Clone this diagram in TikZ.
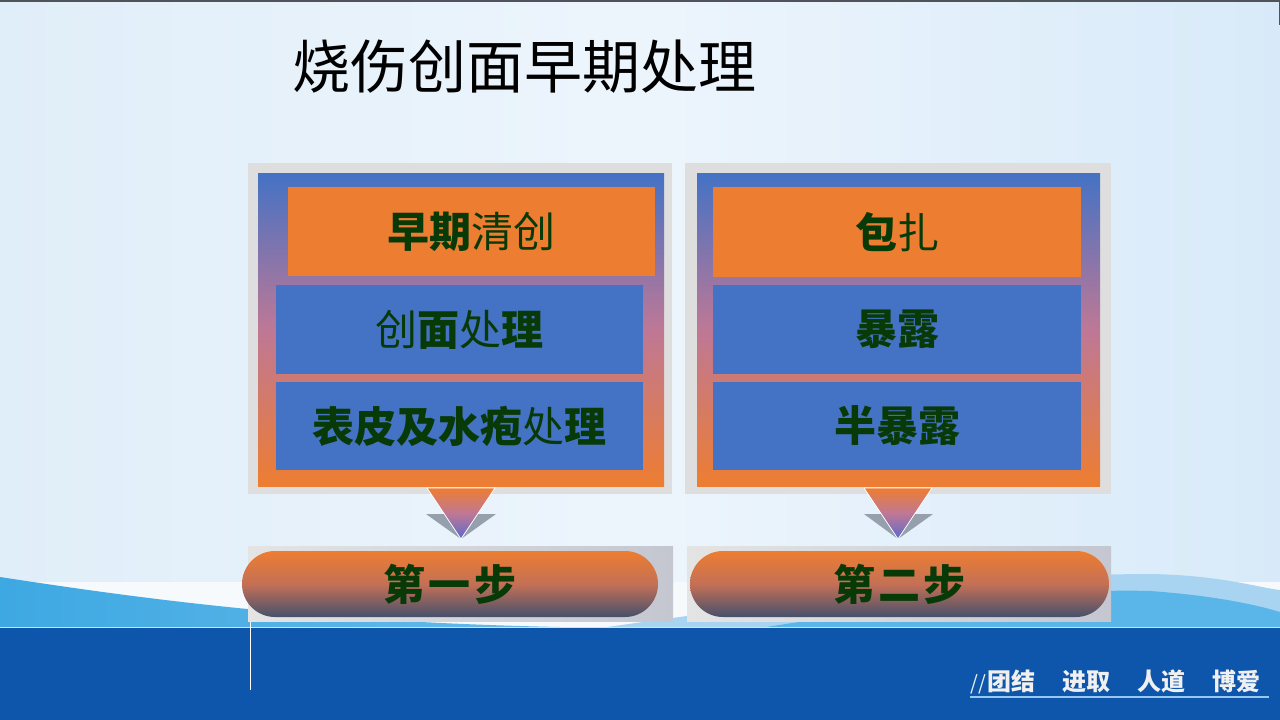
\documentclass[tikz,border=0pt]{standalone}
\usepackage{fontspec}
\newfontfamily\cjk{Noto Sans CJK SC}
\definecolor{bgL}{RGB}{224,238,249}
\definecolor{bgM}{RGB}{237,245,252}
\definecolor{bgR}{RGB}{216,234,249}
\definecolor{cblue}{RGB}{68,114,196}
\definecolor{corange}{RGB}{237,125,49}
\definecolor{cmid}{RGB}{190,120,150}
\definecolor{cslate}{RGB}{70,80,108}
\definecolor{cgreen}{RGB}{8,58,8}
\definecolor{band}{RGB}{14,86,172}
\definecolor{wave1}{RGB}{62,168,226}
\definecolor{wave2}{RGB}{168,212,241}
\definecolor{wave3}{RGB}{90,181,232}
\definecolor{frame}{RGB}{222,222,222}
\definecolor{tri}{RGB}{150,160,172}
\tikzset{
  panelframe/.style={draw=none, fill=frame, minimum width=#1, minimum height=331pt, inner sep=0pt},
  panelgrad/.style={draw=none, top color=cblue, bottom color=corange, middle color=cmid, minimum width=#1, minimum height=313pt, inner sep=0pt},
  obox/.style={draw=none, fill=corange, minimum width=367pt, minimum height=89pt, inner sep=0pt,
     text=cgreen, font=\cjk\fontsize{42}{42}\selectfont},
  bbox/.style={obox, fill=cblue},
  stepframe/.style={draw=none, left color={rgb,255:red,228;green,228;blue,228}, right color={rgb,255:red,196;green,199;blue,208},
     minimum width=#1, minimum height=75pt, inner sep=0pt},
  steppill/.style={draw=none, top color=corange, bottom color=cslate, middle color={rgb,255:red,196;green,112;blue,86},
     rounded corners=33pt, minimum width=#1, minimum height=66pt, inner sep=0pt,
     text=cgreen, font=\cjk\bfseries\fontsize{42}{42}\selectfont},
  arrowtri/.style={top color=corange, bottom color={rgb,255:red,90;green,106;blue,204}, middle color=cmid, draw=white, line width=0.8pt},
  arrowshadow/.style={fill=tri, draw=none},
}
\begin{document}
\begin{tikzpicture}[x=1pt,y=-1pt]
\useasboundingbox (0,0) rectangle (1280,720);
% background
\shade[left color=bgL, right color=bgR, middle color=bgM] (0,0) rectangle (1280,720);
\draw[line width=2pt, color={rgb,255:red,80;green,84;blue,90}] (0,1) -- (1280,1);
\draw[line width=1.5pt, color={rgb,255:red,80;green,84;blue,90}] (1279.3,0) -- (1279.3,25);
% waves
\fill[color={rgb,255:red,246;green,250;blue,253}] (0,582) rectangle (1280,628);
\shade[left color=wave1, right color={rgb,255:red,110;green,190;blue,236}] (0,577) .. controls (150,600) and (350,628) .. (660,628) -- (0,628) -- cycle;
\fill[wave2] (600,628) .. controls (800,600) and (1000,574) .. (1150,574) .. controls (1220,575) and (1260,588) .. (1280,590) -- (1280,628) -- cycle;
\fill[wave3] (760,628) .. controls (900,606) and (1050,588) .. (1150,591) .. controls (1220,596) and (1260,606) .. (1280,612) -- (1280,628) -- cycle;
\fill[band] (0,628) rectangle (1280,720);
\draw[line width=1.2pt, color={rgb,255:red,200;green,228;blue,248}] (0,627.5) -- (1280,627.5);
\coordinate (vt) at (250,622);
\coordinate (vb) at (250,690);
\draw[white, line width=1pt] (vt) -- (vb);
% title
\node[anchor=center, font=\cjk\fontsize{58}{58}\selectfont, text=black, inner sep=0pt] (title) at (524,67) {烧伤创面早期处理};
% left panel
\node[panelframe=424pt] (Lf) at (460,328.5) {};
\node[panelgrad=406pt] (Lg) at (461,329.5) {};
\node[obox] (LA) at (471.5,231.5) {{\bfseries 早期}清创};
\node[bbox] (LB) at (459.5,329.5) {创{\bfseries 面}处{\bfseries 理}};
\node[bbox, minimum height=88pt] (LC) at (459.5,426) {{\bfseries 表皮及水疱}处{\bfseries 理}};
% right panel
\node[panelframe=426pt] (Rf) at (898,328.5) {};
\node[panelgrad=403pt] (Rg) at (898.5,329.5) {};
\node[obox, minimum width=368pt, minimum height=90pt] (RA) at (897,232) {{\bfseries 包}扎};
\node[bbox, minimum width=368pt] (RB) at (897,329.5) {\bfseries 暴露};
\node[bbox, minimum width=368pt, minimum height=88pt] (RC) at (897,426) {\bfseries 半暴露};
% step boxes
\node[stepframe=425pt] (Ls) at (460.5,583.5) {};
\node[steppill=416pt] (L1) at (450,584) {第\hspace{4pt}一\hspace{4pt}步};
\node[stepframe=424pt] (Rs) at (899,583.5) {};
\node[steppill=419pt] (R1) at (899.5,584) {第\hspace{3pt}二\hspace{3pt}步};
% arrows
\fill[arrowshadow] (426,514) -- (496,514) -- (461,539) -- cycle;
\shade[arrowtri] (427,488) -- (495,488) -- (461,539) -- cycle;
\fill[arrowshadow] (864,514) -- (933,514) -- (898,539) -- cycle;
\shade[arrowtri] (864,488) -- (932,488) -- (898,539) -- cycle;
% motto
\node[anchor=west, inner sep=0pt, text={rgb,255:red,240;green,240;blue,240}, font=\cjk\bfseries\fontsize{24}{24}\selectfont] (motto) at (970,682)
  {{\mdseries\fontsize{20}{20}\selectfont\itshape //}\hspace{2pt}团结\hspace{27pt}进取\hspace{27pt}人道\hspace{27pt}博爱};
\coordinate (ul) at (970,697);
\coordinate (ur) at (1269,697);
\draw[line width=1.5pt, color={rgb,255:red,150;green,200;blue,240}] (ul) -- (ur);
\end{tikzpicture}
\end{document}
